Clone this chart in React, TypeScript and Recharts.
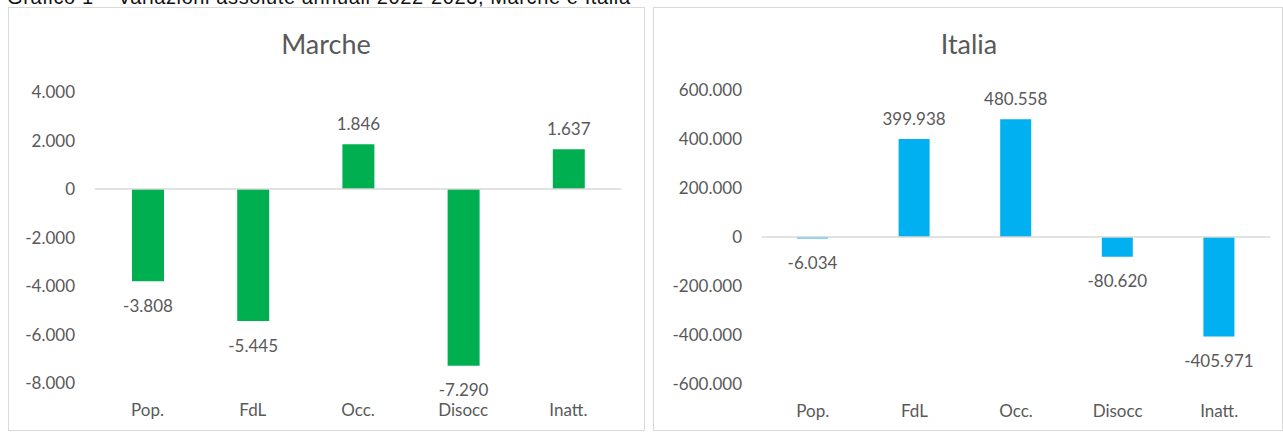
import React from 'react';
import { BarChart, Bar, XAxis, YAxis, ReferenceLine, LabelList } from 'recharts';

const categories = ['Pop.', 'FdL', 'Occ.', 'Disocc', 'Inatt.'];
const marcheValues = [-3808, -5445, 1846, -7290, 1637];
const italiaValues = [-6034, 399938, 480558, -80620, -405971];
const marcheTicks = [-8000, -6000, -4000, -2000, 0, 2000, 4000];
const italiaTicks = [-600000, -400000, -200000, 0, 200000, 400000, 600000];
const pageTitle = 'Grafico 1 – Variazioni assolute annuali 2022-2023, Marche e Italia';
const marcheTitle = 'Marche';
const italiaTitle = 'Italia';

const marcheData = categories.map((c, i) => ({ cat: c, v: marcheValues[i] }));
const italiaData = categories.map((c, i) => ({ cat: c, v: italiaValues[i] }));

const FONT = 'Lato, "Open Sans", sans-serif';
const GREY = '#595959';

const fmt = (v: number) => {
  const s = Math.abs(v).toString().replace(/\B(?=(\d{3})+(?!\d))/g, '.');
  return v < 0 ? '-' + s : s;
};

const renderLabel = (props: any) => {
  const { x, y, width, height, value } = props;
  const v = Number(value);
  const top = Math.min(y, y + height);
  const bottom = Math.max(y, y + height);
  const cy = v >= 0 ? top - 21 : bottom + 24;
  return (
    <text
      x={x + width / 2}
      y={cy}
      textAnchor="middle"
      dominantBaseline="central"
      fill={GREY}
      fontSize={17}
      fontFamily={FONT}
    >
      {fmt(v)}
    </text>
  );
};

const tickStyle = { fill: GREY, fontSize: 17, fontFamily: FONT };

function Panel({ left, top, width, height }: any) {
  return (
    <div
      style={{
        position: 'absolute',
        left,
        top,
        width,
        height,
        border: '1px solid #d9d9d9',
        boxSizing: 'border-box',
        background: '#fff',
      }}
    />
  );
}

export default function App() {
  return (
    <div
      style={{
        position: 'fixed',
        left: 0,
        top: 0,
        width: 1283,
        height: 432,
        overflow: 'hidden',
        background: '#fff',
      }}
    >
      <Panel left={8} top={7} width={637} height={424} />
      <Panel left={653} top={7} width={630} height={424} />

      <svg
        width={1283}
        height={432}
        style={{ position: 'absolute', left: 0, top: 0, pointerEvents: 'none', zIndex: 2 }}
      >
        <text
          x={7}
          y={4}
          fontSize={20}
          fontFamily='"Liberation Sans", Arial, sans-serif'
          fill="#111"
          textLength={623}
          lengthAdjust="spacing"
        >
          {pageTitle}
        </text>
        <text x={326} y={54} textAnchor="middle" fontSize={27} fontFamily={FONT} fill={GREY}>
          {marcheTitle}
        </text>
        <text x={969} y={54} textAnchor="middle" fontSize={27} fontFamily={FONT} fill={GREY}>
          {italiaTitle}
        </text>
      </svg>

      <div style={{ position: 'absolute', left: 8, top: 7, zIndex: 1 }}>
        <BarChart
          width={637}
          height={424}
          data={marcheData}
          margin={{ top: 85, right: 24, bottom: 0, left: 0 }}
        >
          <XAxis
            dataKey="cat"
            axisLine={false}
            tickLine={false}
            tickSize={0}
            tickMargin={21}
            height={48}
            interval={0}
            tick={tickStyle}
          />
          <YAxis
            domain={[-8000, 4000]}
            ticks={marcheTicks}
            tickFormatter={fmt}
            axisLine={false}
            tickLine={false}
            tickSize={0}
            tickMargin={20}
            width={87}
            tick={tickStyle}
            interval={0}
          />
          <ReferenceLine y={0} stroke="#d9d9d9" strokeWidth={1.5} />
          <Bar dataKey="v" fill="#00B050" barSize={32} isAnimationActive={false}>
            <LabelList dataKey="v" content={renderLabel} />
          </Bar>
        </BarChart>
      </div>

      <div style={{ position: 'absolute', left: 653, top: 7, zIndex: 1 }}>
        <BarChart
          width={629}
          height={424}
          data={italiaData}
          margin={{ top: 83, right: 12, bottom: 0, left: 0 }}
        >
          <XAxis
            dataKey="cat"
            axisLine={false}
            tickLine={false}
            tickSize={0}
            tickMargin={21}
            height={47}
            interval={0}
            tick={tickStyle}
          />
          <YAxis
            domain={[-600000, 600000]}
            ticks={italiaTicks}
            tickFormatter={fmt}
            axisLine={false}
            tickLine={false}
            tickSize={0}
            tickMargin={20}
            width={109}
            tick={tickStyle}
            interval={0}
          />
          <ReferenceLine y={0} stroke="#d9d9d9" strokeWidth={1.5} />
          <Bar dataKey="v" fill="#00B0F0" barSize={31} isAnimationActive={false}>
            <LabelList dataKey="v" content={renderLabel} />
          </Bar>
        </BarChart>
      </div>
    </div>
  );
}
